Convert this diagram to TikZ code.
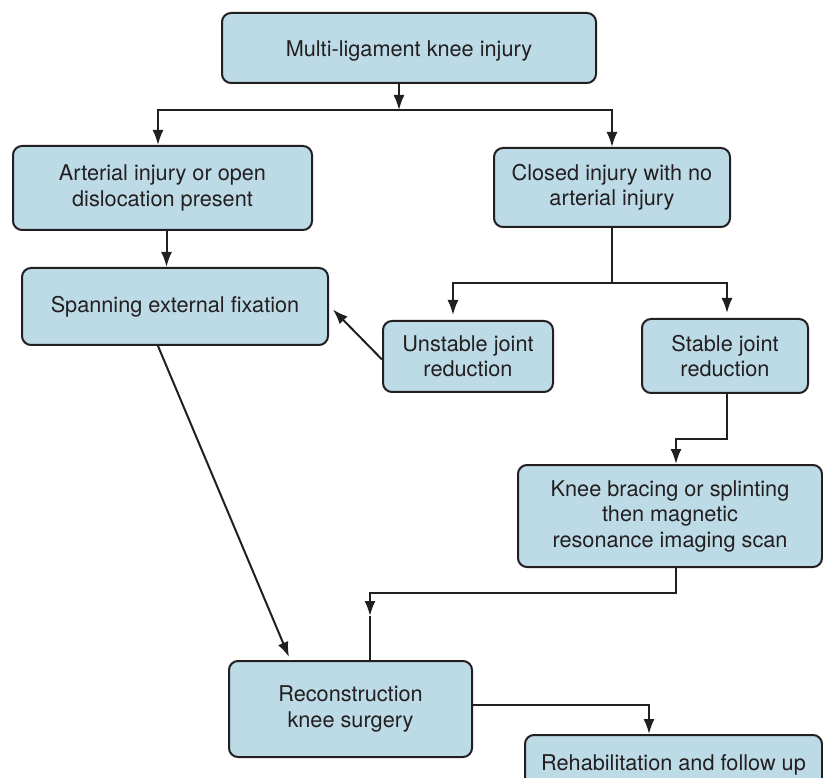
\documentclass[tikz,border=0pt]{standalone}
\usepackage{fontspec}
\setmainfont{TeX Gyre Heros}
\usepackage{xcolor}
\usetikzlibrary{arrows.meta}
\definecolor{boxblue}{RGB}{188,219,230}
\definecolor{ink}{RGB}{35,31,32}

\begin{document}
\begin{tikzpicture}[x=1pt,y=-1pt,
	box/.style={draw=ink,fill=boxblue,line width=2pt,rounded corners=9pt,inner sep=0pt,align=center,text=ink,font=\fontsize{21.7}{25.5}\selectfont},
	link/.style={draw=ink,line width=2pt},
	arr/.style={link,-{Latex[length=15pt,width=11pt]}}]
		\useasboundingbox (0,0) rectangle (823,778);
		\clip (0,0) rectangle (823,778);
		%boxes
		\node[box,minimum width=374pt,minimum height=70pt,text height=22pt] (multi) at (409,48) {Multi-ligament knee injury};
		\node[box,minimum width=299pt,minimum height=84pt] (arterial) at (162.5,188) {Arterial injury or open\\dislocation present};
		\node[box,minimum width=236pt,minimum height=79pt] (closed) at (612,187.5) {Closed injury with no\\arterial injury};
		\node[box,minimum width=306pt,minimum height=77pt] (spanning) at (175,306.5) {Spanning external fixation};
		\node[box,minimum width=170pt,minimum height=71pt] (unstable) at (468,356.5) {Unstable joint\\reduction};
		\node[box,minimum width=166pt,minimum height=74pt] (stable) at (725,356) {Stable joint\\reduction};
		\node[box,minimum width=304pt,minimum height=102pt] (knee) at (670,516) {Knee bracing or splinting\\then magnetic\\resonance imaging scan};
		\node[box,minimum width=243pt,minimum height=96pt] (recon) at (350.5,709) {Reconstruction\\knee surgery};
		\node[box,minimum width=297pt,minimum height=60pt] (rehab) at (673.5,765) {Rehabilitation and follow up};
		
		%first split
		\coordinate (fork1) at (399,110);
		\draw[arr] ([xshift=-10pt]multi.south) -- (fork1);
		\draw[arr] (fork1) -| ([xshift=-4.5pt]arterial.north);
		\draw[arr] (fork1) -| (closed.north);
		%arterial branch
		\draw[arr] ([xshift=4pt]arterial.south) -- ([xshift=4pt]arterial.south |- spanning.north);
		%closed branch
		\coordinate (fork2) at (612,283);
		\draw[link] (closed.south) -- (fork2);
		\draw[arr,shorten >=5pt] (fork2) -| ([xshift=-15pt]unstable.north);
		\draw[arr,shorten >=5pt] (fork2) -| ([xshift=2pt]stable.north);
		%back to fixation
		\draw[arr] ([yshift=-3pt]unstable.west) -- ([xshift=4pt,yshift=-3pt]spanning.east);
		\draw[arr] ([xshift=-17pt]spanning.south) -- ([xshift=-61.5pt,yshift=3pt]recon.north);
		%stable path
		\draw[arr] ([xshift=2pt]stable.south) -- ++(0,45) -| ([xshift=6pt]knee.north);
		\coordinate (mid) at (370,616);
		\draw[arr] ([xshift=6pt]knee.south) -- ++(0,25) -| (mid);
		\draw[link] (mid) -- (mid |- recon.north);
		%follow up
		\draw[arr] ([yshift=4pt]recon.east) -| ([xshift=-24.5pt]rehab.north);
	\end{tikzpicture}
\end{document}
